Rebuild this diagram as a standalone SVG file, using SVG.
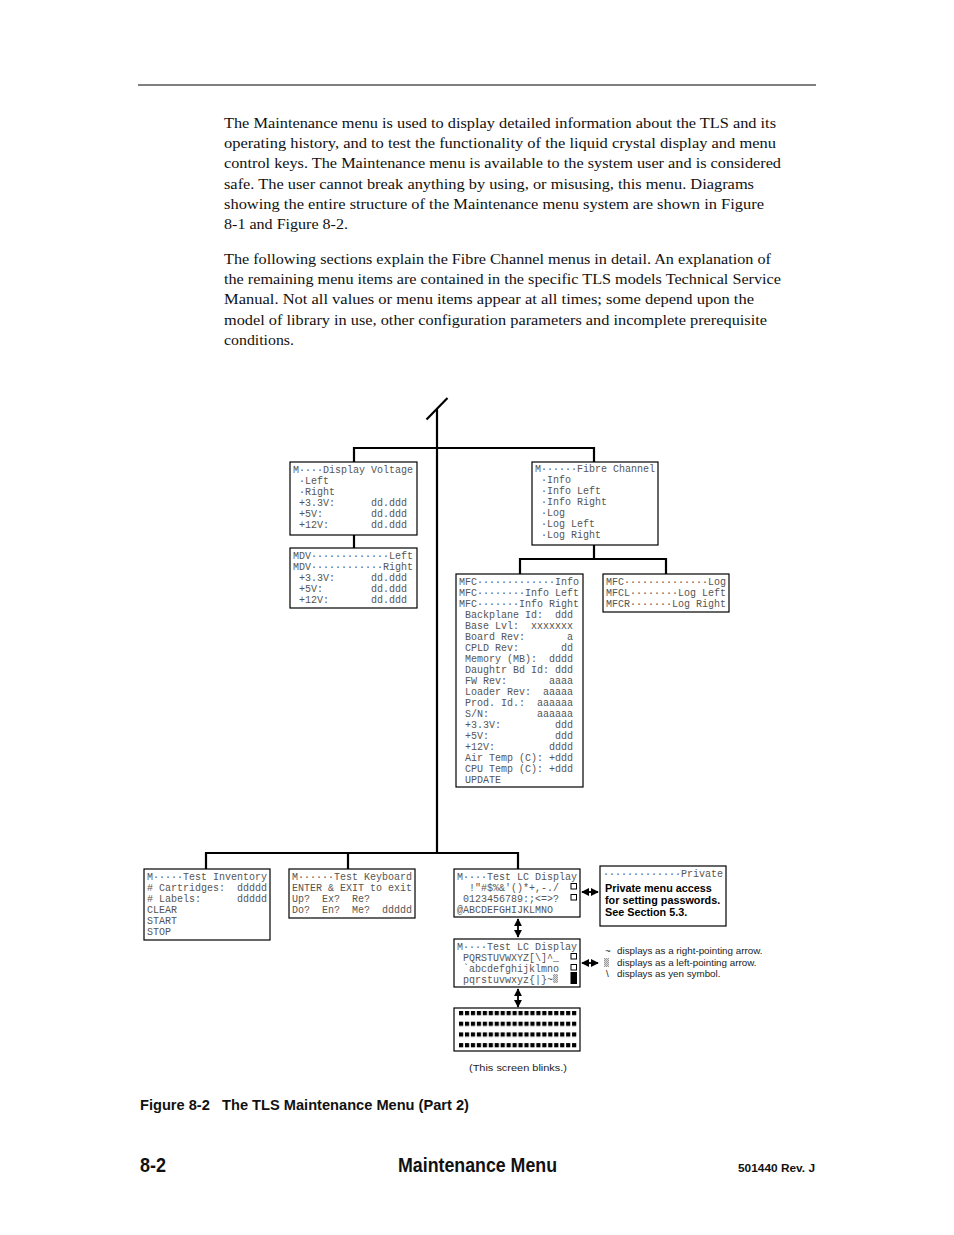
<svg xmlns="http://www.w3.org/2000/svg" width="954" height="1235" viewBox="0 0 954 1235">
<style>
text{white-space:pre}
.para{font-family:"Liberation Serif",serif;font-size:15px;fill:#111}
.box{fill:#fff;stroke:#000;stroke-width:1.2}
.mono{font-family:"Liberation Mono",monospace;font-size:10px;fill:#555;white-space:pre}
.conn{fill:none;stroke:#000;stroke-width:2.2}
.arr{fill:none;stroke:#000;stroke-width:1.8}
.sq{fill:#fff;stroke:#000;stroke-width:1}
.bold{font-family:"Liberation Sans",sans-serif;font-size:10.8px;font-weight:bold;fill:#000}
.leg{font-family:"Liberation Sans",sans-serif;font-size:9.8px;fill:#222}
.cap{font-family:"Liberation Sans",sans-serif;font-weight:bold;fill:#111;white-space:pre}
</style>
<defs>
<marker id="ah" viewBox="0 0 10 10" refX="9" refY="5" markerWidth="4.6" markerHeight="4.6" orient="auto-start-reverse" markerUnits="strokeWidth">
<path d="M0,0 L10,5 L0,10 Z" fill="#000"/>
</marker>
<pattern id="blink" x="459" y="1011" width="5.95" height="10.7" patternUnits="userSpaceOnUse">
<rect x="0" y="0" width="4.2" height="4.2" fill="#000"/>
</pattern>
<pattern id="chk" x="0" y="0" width="2" height="2" patternUnits="userSpaceOnUse">
<rect width="2" height="2" fill="#ddd"/>
<rect width="1" height="1" fill="#999"/>
<rect x="1" y="1" width="1" height="1" fill="#999"/>
</pattern>
</defs>
<rect width="954" height="1235" fill="#fff"/>
<line x1="138" y1="85" x2="816" y2="85" stroke="#000" stroke-width="1"/>

<g id="intro">
<text class="para" x="224" y="128" textLength="552" lengthAdjust="spacingAndGlyphs">The Maintenance menu is used to display detailed information about the TLS and its</text>
<text class="para" x="224" y="148" textLength="552" lengthAdjust="spacingAndGlyphs">operating history, and to test the functionality of the liquid crystal display and menu</text>
<text class="para" x="224" y="168" textLength="557" lengthAdjust="spacingAndGlyphs">control keys. The Maintenance menu is available to the system user and is considered</text>
<text class="para" x="224" y="189" textLength="530" lengthAdjust="spacingAndGlyphs">safe. The user cannot break anything by using, or misusing, this menu. Diagrams</text>
<text class="para" x="224" y="209" textLength="540" lengthAdjust="spacingAndGlyphs">showing the entire structure of the Maintenance menu system are shown in Figure</text>
<text class="para" x="224" y="229" textLength="124" lengthAdjust="spacingAndGlyphs">8-1 and Figure 8-2.</text>
<text class="para" x="224" y="264" textLength="547" lengthAdjust="spacingAndGlyphs">The following sections explain the Fibre Channel menus in detail. An explanation of</text>
<text class="para" x="224" y="284" textLength="557" lengthAdjust="spacingAndGlyphs">the remaining menu items are contained in the specific TLS models Technical Service</text>
<text class="para" x="224" y="304" textLength="530" lengthAdjust="spacingAndGlyphs">Manual. Not all values or menu items appear at all times; some depend upon the</text>
<text class="para" x="224" y="325" textLength="543" lengthAdjust="spacingAndGlyphs">model of library in use, other configuration parameters and incomplete prerequisite</text>
<text class="para" x="224" y="345" textLength="70" lengthAdjust="spacingAndGlyphs">conditions.</text>
</g>

<g id="connectors">
<line class="conn" x1="426.5" y1="419.5" x2="447.5" y2="398"/>
<path class="conn" d="M437,409 V853"/>
<path class="conn" d="M354,462 V448 H594 V462"/>
<path class="conn" d="M354,535 V548"/>
<path class="conn" d="M594,545 V559 M520,574 V559 H666 V574"/>
<path class="conn" d="M206,869 V853 H518 V869 M348,853 V869"/>
<line class="arr" x1="582" y1="892" x2="598" y2="892" marker-start="url(#ah)" marker-end="url(#ah)"/>
<line class="arr" x1="518" y1="919" x2="518" y2="937" marker-start="url(#ah)" marker-end="url(#ah)"/>
<line class="arr" x1="582" y1="963" x2="598" y2="963" marker-start="url(#ah)" marker-end="url(#ah)"/>
<line class="arr" x1="518" y1="989" x2="518" y2="1007" marker-start="url(#ah)" marker-end="url(#ah)"/>
</g>

<g id="display-voltage">
<rect class="box" x="290" y="462" width="127" height="73"/>
<text class="mono"><tspan x="293" y="473">M····Display Voltage</tspan><tspan x="293" y="484"> ·Left</tspan><tspan x="293" y="495"> ·Right</tspan><tspan x="293" y="506"> +3.3V:      dd.ddd</tspan><tspan x="293" y="517"> +5V:        dd.ddd</tspan><tspan x="293" y="528"> +12V:       dd.ddd</tspan></text>
</g>

<g id="mdv">
<rect class="box" x="290" y="548" width="127" height="60"/>
<text class="mono"><tspan x="293" y="559">MDV·············Left</tspan><tspan x="293" y="570">MDV············Right</tspan><tspan x="293" y="581"> +3.3V:      dd.ddd</tspan><tspan x="293" y="592"> +5V:        dd.ddd</tspan><tspan x="293" y="603"> +12V:       dd.ddd</tspan></text>
</g>

<g id="fibre-channel">
<rect class="box" x="532" y="462" width="126" height="83"/>
<text class="mono"><tspan x="535" y="472">M······Fibre Channel</tspan><tspan x="535" y="483"> ·Info</tspan><tspan x="535" y="494"> ·Info Left</tspan><tspan x="535" y="505"> ·Info Right</tspan><tspan x="535" y="516"> ·Log</tspan><tspan x="535" y="527"> ·Log Left</tspan><tspan x="535" y="538"> ·Log Right</tspan></text>
</g>

<g id="mfc-info">
<rect class="box" x="456" y="574" width="127" height="213"/>
<text class="mono"><tspan x="459" y="585">MFC·············Info</tspan><tspan x="459" y="596">MFC········Info Left</tspan><tspan x="459" y="607">MFC·······Info Right</tspan><tspan x="459" y="618"> Backplane Id:  ddd</tspan><tspan x="459" y="629"> Base Lvl:  xxxxxxx</tspan><tspan x="459" y="640"> Board Rev:       a</tspan><tspan x="459" y="651"> CPLD Rev:       dd</tspan><tspan x="459" y="662"> Memory (MB):  dddd</tspan><tspan x="459" y="673"> Daughtr Bd Id: ddd</tspan><tspan x="459" y="684"> FW Rev:       aaaa</tspan><tspan x="459" y="695"> Loader Rev:  aaaaa</tspan><tspan x="459" y="706"> Prod. Id.:  aaaaaa</tspan><tspan x="459" y="717"> S/N:        aaaaaa</tspan><tspan x="459" y="728"> +3.3V:         ddd</tspan><tspan x="459" y="739"> +5V:           ddd</tspan><tspan x="459" y="750"> +12V:         dddd</tspan><tspan x="459" y="761"> Air Temp (C): +ddd</tspan><tspan x="459" y="772"> CPU Temp (C): +ddd</tspan><tspan x="459" y="783"> UPDATE</tspan></text>
</g>

<g id="mfc-log">
<rect class="box" x="603" y="574" width="126" height="38"/>
<text class="mono"><tspan x="606" y="585">MFC··············Log</tspan><tspan x="606" y="596">MFCL········Log Left</tspan><tspan x="606" y="607">MFCR·······Log Right</tspan></text>
</g>

<g id="test-inventory">
<rect class="box" x="144" y="869" width="126" height="71"/>
<text class="mono"><tspan x="147" y="879.5">M·····Test Inventory</tspan><tspan x="147" y="890.5"># Cartridges:  ddddd</tspan><tspan x="147" y="901.5"># Labels:      ddddd</tspan><tspan x="147" y="912.5">CLEAR</tspan><tspan x="147" y="923.5">START</tspan><tspan x="147" y="934.5">STOP</tspan></text>
</g>

<g id="test-keyboard">
<rect class="box" x="289" y="869" width="126" height="49"/>
<text class="mono"><tspan x="292" y="879.5">M······Test Keyboard</tspan><tspan x="292" y="890.5">ENTER &amp; EXIT to exit</tspan><tspan x="292" y="901.5">Up?  Ex?  Re?</tspan><tspan x="292" y="912.5">Do?  En?  Me?  ddddd</tspan></text>
</g>

<g id="test-lc-1">
<rect class="box" x="454" y="869" width="126" height="48"/>
<text class="mono"><tspan x="457" y="879.5">M····Test LC Display</tspan><tspan x="457" y="890.5">  !"#$%&amp;'()*+,-./</tspan><tspan x="457" y="901.5"> 0123456789:;&lt;=&gt;?</tspan><tspan x="457" y="912.5">@ABCDEFGHIJKLMNO</tspan></text>
<rect class="sq" x="571" y="883.5" width="5.5" height="5.5"/>
<rect class="sq" x="571" y="894.5" width="5.5" height="5.5"/>
</g>

<g id="private">
<rect class="box" x="600" y="866" width="126" height="60"/>
<text class="mono" x="603" y="876.5">·············Private</text>
<text class="bold"><tspan x="605" y="891.5">Private menu access</tspan><tspan x="605" y="903.5">for setting passwords.</tspan><tspan x="605" y="915.5">See Section 5.3.</tspan></text>
</g>

<g id="test-lc-2">
<rect class="box" x="454" y="939" width="126" height="48"/>
<text class="mono"><tspan x="457" y="949.5">M····Test LC Display</tspan><tspan x="457" y="960.5"> PQRSTUVWXYZ[\]^_</tspan><tspan x="457" y="971.5"> `abcdefghijklmno</tspan><tspan x="457" y="982.5"> pqrstuvwxyz{|}~</tspan></text>
<rect x="553" y="974" width="5" height="9" fill="url(#chk)"/>
<rect class="sq" x="571" y="953.5" width="5.5" height="5.5"/>
<rect class="sq" x="571" y="964.5" width="5.5" height="5.5"/>
<rect x="570.5" y="972" width="6.5" height="12" fill="#000"/>
</g>

<g id="legend">
<text class="leg" x="605" y="954">~</text>
<text class="leg" x="617" y="954">displays as a right-pointing arrow.</text>
<rect x="604" y="958" width="5" height="9" fill="url(#chk)"/>
<text class="leg" x="617" y="966">displays as a left-pointing arrow.</text>
<text class="leg" x="606" y="977">\</text>
<text class="leg" x="617" y="977">displays as yen symbol.</text>
</g>

<g id="blink-screen">
<rect class="box" x="454" y="1008" width="126" height="43"/>
<rect x="459" y="1011" width="119" height="38" fill="url(#blink)"/>
<text class="leg" x="469" y="1071" font-size="11" textLength="98" lengthAdjust="spacingAndGlyphs">(This screen blinks.)</text>
</g>

<g id="caption">
<text class="cap" x="140" y="1110" font-size="14" textLength="329" lengthAdjust="spacingAndGlyphs">Figure 8-2   The TLS Maintenance Menu (Part 2)</text>
<text class="cap" x="140" y="1172" font-size="20" textLength="26" lengthAdjust="spacingAndGlyphs">8-2</text>
<text class="cap" x="398" y="1172" font-size="20" textLength="159" lengthAdjust="spacingAndGlyphs">Maintenance Menu</text>
<text class="cap" x="738" y="1172" font-size="11.5" textLength="77" lengthAdjust="spacingAndGlyphs">501440 Rev. J</text>
</g>
</svg>
